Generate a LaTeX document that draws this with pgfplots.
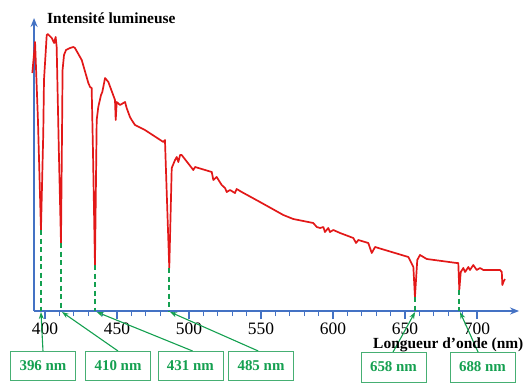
\documentclass[border=0pt]{standalone}
\usepackage{pgfplots}
\pgfplotsset{compat=1.18}
\usepackage{fontspec}
\setmainfont{Liberation Serif}
\usetikzlibrary{arrows.meta}
\definecolor{cred}{RGB}{226,24,24}
\definecolor{cblue}{RGB}{68,114,196}
\definecolor{cgreen}{RGB}{20,160,80}
\definecolor{cgbox}{RGB}{70,175,115}
\begin{document}
\begin{tikzpicture}
\begin{axis}[
  scale only axis, width=485bp, height=293bp,
  xmin=392.4, xmax=729.2, ymin=0, ymax=293,
  axis lines=left,
  axis line style={cblue, line width=1.8bp, -{Stealth[length=9bp,width=7bp]}},
  ytick=\empty,
  xtick={400,450,...,700},
  minor xtick={410,420,430,440,460,470,480,490,510,520,530,540,560,570,580,590,610,620,630,640,660,670,680,690},
  tick align=outside, major tick length=8bp, minor tick length=5bp,
  tick style={cblue, line width=1.2bp},
  xticklabel style={font=\fontsize{17.5}{18}\selectfont, text=black},
  /pgf/number format/assume math mode=true,
  clip=false,
]
\path (axis cs:368.75,-76) rectangle (axis cs:736.1,311);
\addplot[cred, line width=1.7bp, line join=round] coordinates {
(391.2,238) (393.1,269) (395.1,191) (397.2,81) (398.8,178) (399.3,231)
(401.2,276) (401.9,277) (404.7,273) (406.3,268) (407.4,274) (408.1,264)
(409.6,161) (411.1,68) (411.9,191) (412.2,241) (413.2,256) (414.6,261)
(417.4,263) (419.7,264) (420.8,263) (425.5,251) (430.1,228) (431.3,224)
(432.4,223) (433.3,161) (434.7,46) (435.9,191) (437.0,204) (438.9,216)
(439.8,219) (441.7,233) (444.0,229) (448.6,211) (449.1,191) (449.8,209)
(452.1,206) (455.6,209) (456.7,203) (459.0,194) (460.2,191) (462.5,186)
(469.4,181) (482.2,169) (483.3,171) (484.7,111) (486.3,43) (488.0,143)
(490.3,151) (491.5,154) (492.6,149) (493.8,156) (494.9,156) (503.0,141)
(504.2,144) (515.8,139) (516.9,131) (519.2,134) (522.7,126) (525.0,123)
(526.2,119) (528.5,121) (531.9,118) (533.1,122) (536.6,119) (549.3,109)
(565.5,96) (572.4,92) (586.3,88) (588.7,84) (591.0,83) (593.3,84)
(594.4,79) (596.7,83) (597.9,79) (600.2,81) (604.9,78) (614.1,73)
(616.0,68) (617.6,71) (624.5,68) (626.9,58) (629.2,64) (652.3,54)
(655.8,44) (656.9,14) (658.5,51) (660.4,56) (665.1,52) (685.9,48)
(687.0,48) (687.7,21) (688.7,39) (690.5,43) (691.7,39) (694.0,44)
(695.1,41) (697.4,46) (699.8,41) (702.1,43) (704.4,41) (706.7,41)
(716.0,41) (717.2,39) (717.6,26) (718.3,29) (719.4,32)
};
\pgfplotsset{dashg/.style={cgreen, line width=2bp, dash pattern=on 5bp off 3.5bp}}
\addplot[dashg] coordinates {(397.2,81) (397.2,0)};
\addplot[dashg] coordinates {(411.1,68) (411.1,0)};
\addplot[dashg] coordinates {(434.7,46) (434.7,0)};
\addplot[dashg] coordinates {(486.3,43) (486.3,0)};
\addplot[dashg] coordinates {(656.9,14) (656.9,0)};
\addplot[dashg] coordinates {(687.7,21) (687.7,0)};
\begin{scope}[cgreen, line width=1.1bp, -{Stealth[length=7bp,width=5bp]}]
\draw (axis cs:398.6,-40) -- (axis cs:397.2,-1);
\draw (axis cs:450.7,-40) -- (axis cs:411.8,-1);
\draw (axis cs:502.5,-40) -- (axis cs:435.9,-1);
\draw (axis cs:548.1,-40) -- (axis cs:486.8,-1);
\draw (axis cs:641.7,-41) -- (axis cs:657.0,-1);
\draw (axis cs:700.7,-41) -- (axis cs:688.2,-1);
\end{scope}
\begin{scope}[every node/.style={draw=cgbox, line width=0.8bp, fill=white, minimum width=65bp, minimum height=29bp, text=cgreen, font=\bfseries\fontsize{15}{15}\selectfont, inner sep=0pt}]
\node at (axis cs:398.6,-54.5) {396 nm};
\node at (axis cs:450.7,-54.5) {410 nm};
\node at (axis cs:501.0,-54.5) {431 nm};
\node at (axis cs:550.0,-54.5) {485 nm};
\node[minimum height=30bp] at (axis cs:642.0,-56) {658 nm};
\node[minimum height=30bp] at (axis cs:703.8,-56) {688 nm};
\end{scope}
\node[anchor=west, inner sep=0pt, font=\bfseries\fontsize{15.5}{16}\selectfont] at (axis cs:401.4,293) {Intensité lumineuse};
\node[anchor=west, inner sep=0pt, font=\bfseries\fontsize{15.5}{16}\selectfont] at (axis cs:627.8,-34) {Longueur d’onde (nm)};
\end{axis}
\end{tikzpicture}
\end{document}
